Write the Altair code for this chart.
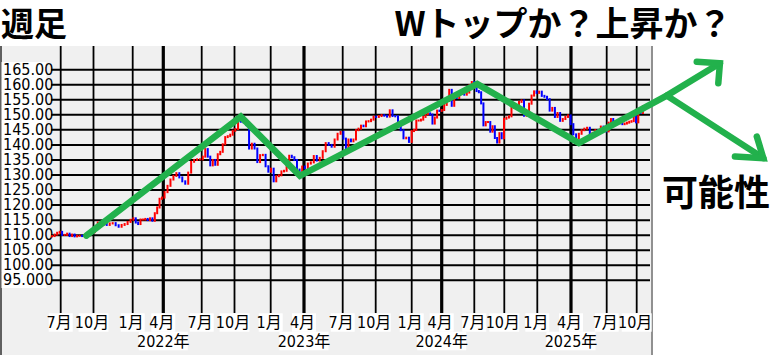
import altair as alt
import pandas as pd

# ---------------- data ----------------
# weekly closes (USD/JPY), each year's list starts at the given Monday
YEAR_START = ["2021-06-07", "2022-01-03", "2023-01-02", "2024-01-01", "2025-01-06"]
FIRST_OPEN = 109.6
CLOSE_2021 = [109.7, 110.2, 110.8, 111.1, 110.1, 110.1, 110.5, 109.7, 110.2, 109.6,
              109.8, 109.8, 109.7, 109.9, 109.9, 110.7, 111.0, 112.2, 114.2, 113.5,
              114.0, 113.4, 113.9, 114.0, 113.3, 112.8, 113.4, 113.7, 114.4, 115.1]
CLOSE_2022 = [115.6, 114.2, 113.7, 115.2, 115.2, 115.4, 115.0, 115.6, 114.8, 117.3,
              119.2, 122.1, 122.5, 124.3, 126.4, 128.5, 129.7, 130.6, 129.2, 127.9,
              127.1, 130.8, 134.4, 135.0, 135.2, 135.2, 136.1, 138.6, 136.1, 133.2,
              135.0, 133.4, 136.9, 137.7, 140.2, 142.6, 142.9, 143.4, 144.7, 145.3,
              148.7, 147.7, 147.5, 146.6, 138.8, 140.4, 138.8, 134.3, 136.6, 136.7,
              132.9, 131.1]
CLOSE_2023 = [132.1, 127.9, 129.6, 129.9, 131.2, 131.4, 134.2, 136.4, 135.9, 135.0,
              131.8, 130.7, 132.8, 132.2, 133.8, 134.2, 136.3, 134.8, 135.7, 137.9,
              140.6, 140.0, 139.4, 141.8, 143.7, 144.3, 142.1, 138.8, 141.8, 141.2,
              141.8, 144.9, 145.4, 146.4, 146.2, 147.8, 147.9, 148.4, 149.4, 149.3,
              149.6, 149.9, 149.7, 149.4, 151.5, 149.6, 149.5, 146.8, 144.9, 142.2,
              142.4, 141.0]
CLOSE_2024 = [144.6, 145.0, 148.1, 148.1, 148.4, 149.3, 150.2, 150.5, 150.1, 147.1,
              149.1, 151.4, 151.3, 151.6, 153.3, 154.6, 158.3, 153.0, 155.8, 155.6,
              157.0, 157.3, 156.7, 157.4, 159.8, 160.9, 160.8, 157.9, 157.5, 153.8,
              146.5, 147.6, 147.6, 144.4, 146.2, 142.3, 140.8, 143.9, 142.2, 148.7,
              149.1, 149.5, 152.3, 152.9, 152.6, 154.3, 154.8, 149.7, 150.0, 153.7,
              156.4, 157.8, 157.3]
CLOSE_2025 = [157.7, 156.3, 156.0, 155.2, 151.4, 152.3, 149.3, 150.6, 148.0, 148.6,
              149.3, 149.8, 146.9, 143.5, 142.2, 143.7, 144.9, 145.4, 145.7, 142.6,
              144.0, 144.9, 144.1, 146.1, 144.6, 144.5, 147.4, 148.6, 147.7, 147.4,
              147.7, 147.2, 146.9, 147.1, 147.4, 147.7, 147.9, 149.5, 147.5, 151.1,
              150.6, 152.9]

# axis: quarter grid lines and labels
QUARTERS = ["2021-07-01", "2021-10-01", "2022-01-01", "2022-04-01", "2022-07-01",
            "2022-10-01", "2023-01-01", "2023-04-01", "2023-07-01", "2023-10-01",
            "2024-01-01", "2024-04-01", "2024-07-01", "2024-10-01", "2025-01-01",
            "2025-04-01", "2025-07-01", "2025-10-01"]
QUARTER_LABELS = ["7月", "10月", "1月", "4月", "7月", "10月", "1月", "4月", "7月",
                  "10月", "1月", "4月", "7月", "10月", "1月", "4月", "7月", "10月"]
YEAR_DATES = ["2022-04-01", "2023-04-01", "2024-04-01", "2025-04-01"]
YEAR_LABELS = ["2022年", "2023年", "2024年", "2025年"]
Y_TICKS = [165, 160, 155, 150, 145, 140, 135, 130, 125, 120, 115, 110, 105, 100, 95]
Y_LABELS = ["165.00", "160.00", "155.00", "150.00", "145.00", "140.00", "135.00",
            "130.00", "125.00", "120.00", "115.00", "110.00", "105.00", "100.00", "95.000"]

# hand-drawn annotation (W shape + arrows)
ANN_SEG = ["w"] * 7 + ["uphead"] * 3 + ["down"] * 2 + ["downhead"] * 3
ANN_DATE = ["2021-09-11", "2022-10-17", "2023-03-21", "2024-07-10", "2025-04-21",
            "2026-01-01", "2026-06-13",
            "2026-04-03", "2026-06-13", "2026-06-08",
            "2026-01-01", "2026-10-24",
            "2026-10-04", "2026-10-24", "2026-07-29"]
ANN_VALUE = [109.84, 149.4, 129.74, 160.26, 140.59, 156.38, 167.12,
             167.65, 167.12, 160.49,
             156.38, 135.61,
             142.78, 135.61, 136.14]

TITLE_LEFT = "週足"
TITLE_RIGHT = "Wトップか？上昇か？"
NOTE = "可能性"

# ---------------- tables ----------------
EPOCH = pd.Timestamp("2000-01-01")
def days(d):
    return (pd.to_datetime(d) - EPOCH) / pd.Timedelta(days=1)

frames = []
for start, closes in zip(YEAR_START, [CLOSE_2021, CLOSE_2022, CLOSE_2023, CLOSE_2024, CLOSE_2025]):
    frames.append(pd.DataFrame({"date": pd.date_range(start, periods=len(closes), freq="7D"),
                                "close": closes}))
candles = pd.concat(frames, ignore_index=True)
candles["t"] = days(candles["date"])
candles["open"] = [FIRST_OPEN] + candles["close"].tolist()[:-1]
candles["dir"] = ["up" if c >= o else "down" for o, c in zip(candles["open"], candles["close"])]
candles = candles.drop(columns=["date"])

qdf = pd.DataFrame({"t": days(pd.Series(QUARTERS)), "label": QUARTER_LABELS,
                    "april": [q[5:7] == "04" for q in QUARTERS]})
qdf["wide"] = qdf["label"].str.len() > 2
ydf = pd.DataFrame({"t": days(pd.Series(YEAR_DATES)), "label": YEAR_LABELS})
tdf = pd.DataFrame({"v": Y_TICKS, "label": Y_LABELS})
ann = pd.DataFrame({"seg": ANN_SEG, "t": days(pd.Series(ANN_DATE)), "v": ANN_VALUE,
                    "order": list(range(len(ANN_SEG)))})

# ---------------- scales (layout of the original's irregular time axis) ----------------
QUARTER_PX = [60.7, 93.5, 132.7, 163.3, 201.7, 234.5, 270.7, 304.0, 342.7, 375.7,
              411.7, 441.7, 474.3, 504.3, 537.3, 571.0, 606.7, 636.7]
X_DOMAIN = [float(days("2021-01-12"))] + [float(x) for x in days(pd.Series(QUARTERS))] + \
           [float(days("2026-12-11"))]
X_SCALE = alt.Scale(type="linear", domain=X_DOMAIN, range=[0] + QUARTER_PX + [779],
                    nice=False, zero=False)
Y_SCALE = alt.Scale(domain=[95, 165], range=[280.3, 69.7], nice=False, zero=False)

X = lambda f="t": alt.X(f"{f}:Q", scale=X_SCALE, axis=None)
Y = lambda f="v": alt.Y(f"{f}:Q", scale=Y_SCALE, axis=None)

one = alt.Data(values=[{}])
NARROW = "Liberation Sans Narrow, DejaVu Sans Condensed, Noto Sans CJK JP, sans-serif"
JP = "Noto Sans CJK JP"
GREEN = "#22b14c"

panel = alt.Chart(one).mark_rect(color="#f0f0f0").encode(
    x=alt.value(0), x2=alt.value(652), y=alt.value(46), y2=alt.value(355))
left_border = alt.Chart(one).mark_rule(color="#606060", strokeWidth=2).encode(
    x=alt.value(1), y=alt.value(46), y2=alt.value(355))
right_border = alt.Chart(one).mark_rule(color="#909090", strokeWidth=2).encode(
    x=alt.value(652), y=alt.value(46), y2=alt.value(355))

ylab_bg = alt.Chart(tdf).mark_tick(color="white", opacity=1, thickness=15.2, size=45).encode(
    y=Y(), x=alt.value(24))
hgrid = alt.Chart(tdf).mark_rule(color="black", strokeWidth=2).encode(
    y=Y(), x=alt.value(51), x2=alt.value(650))
ylab = alt.Chart(tdf).mark_text(align="left", baseline="middle", font=NARROW, fontSize=16,
                                color="black").encode(y=Y(), x=alt.value(3), text="label:N")

vgrid = alt.Chart(qdf).mark_rule(color="black").encode(
    x=X(), y=alt.value(46), y2=alt.value(313),
    strokeWidth=alt.condition("datum.april", alt.value(3.2), alt.value(1.8)))
mbg_narrow = alt.Chart(qdf[~qdf["wide"]]).mark_tick(color="white", opacity=1, thickness=24, size=18.4).encode(
    x=X(), y=alt.value(322.5))
mbg_wide = alt.Chart(qdf[qdf["wide"]]).mark_tick(color="white", opacity=1, thickness=30, size=18.4).encode(
    x=X(), y=alt.value(322.5))
mlab = alt.Chart(qdf).mark_text(align="center", baseline="middle", font=NARROW, fontSize=16,
                                color="black", dx=-1.5).encode(x=X(), y=alt.value(323), text="label:N")
ybg = alt.Chart(ydf).mark_tick(color="white", opacity=1, thickness=49, size=18.4).encode(
    x=X(), y=alt.value(341))
ylab2 = alt.Chart(ydf).mark_text(align="center", baseline="middle", font=NARROW, fontSize=16,
                                 color="black").encode(x=X(), y=alt.value(342), text="label:N")

bars = alt.Chart(candles).mark_rule(strokeWidth=2, strokeCap="square").encode(
    x=X(), y=Y("open"), y2="close:Q",
    color=alt.Color("dir:N", scale=alt.Scale(domain=["up", "down"], range=["#ff0000", "#0000ff"]),
                    legend=None))

green = alt.Chart(ann).mark_line(color=GREEN, strokeWidth=6.5, strokeCap="round",
                                 strokeJoin="miter").encode(
    x=X(), y=Y(), detail="seg:N", order="order:Q")

t1 = alt.Chart(one).mark_text(text=TITLE_LEFT, font=JP, fontSize=33, fontWeight="bold",
                              align="left", baseline="middle", color="black").encode(
    x=alt.value(1), y=alt.value(26))
t2 = alt.Chart(one).mark_text(text=TITLE_RIGHT, font=JP, fontSize=34, fontWeight="bold",
                              align="center", baseline="middle", color="black").encode(
    x=alt.value(563), y=alt.value(26))
t3 = alt.Chart(one).mark_text(text=NOTE, font=JP, fontSize=36, fontWeight="bold",
                              align="center", baseline="middle", color="black").encode(
    x=alt.value(716), y=alt.value(195))

chart = alt.layer(
    panel, left_border, right_border, ylab_bg, hgrid, vgrid, mbg_narrow, mbg_wide, ybg,
    ylab, mlab, ylab2, bars, green, t1, t2, t3
).properties(
    width=779, height=355, autosize=alt.AutoSizeParams(type="none"), padding=0,
    background="white"
).configure_view(stroke=None)

chart.save("out.html", embed_options={"renderer": "svg", "actions": False})
